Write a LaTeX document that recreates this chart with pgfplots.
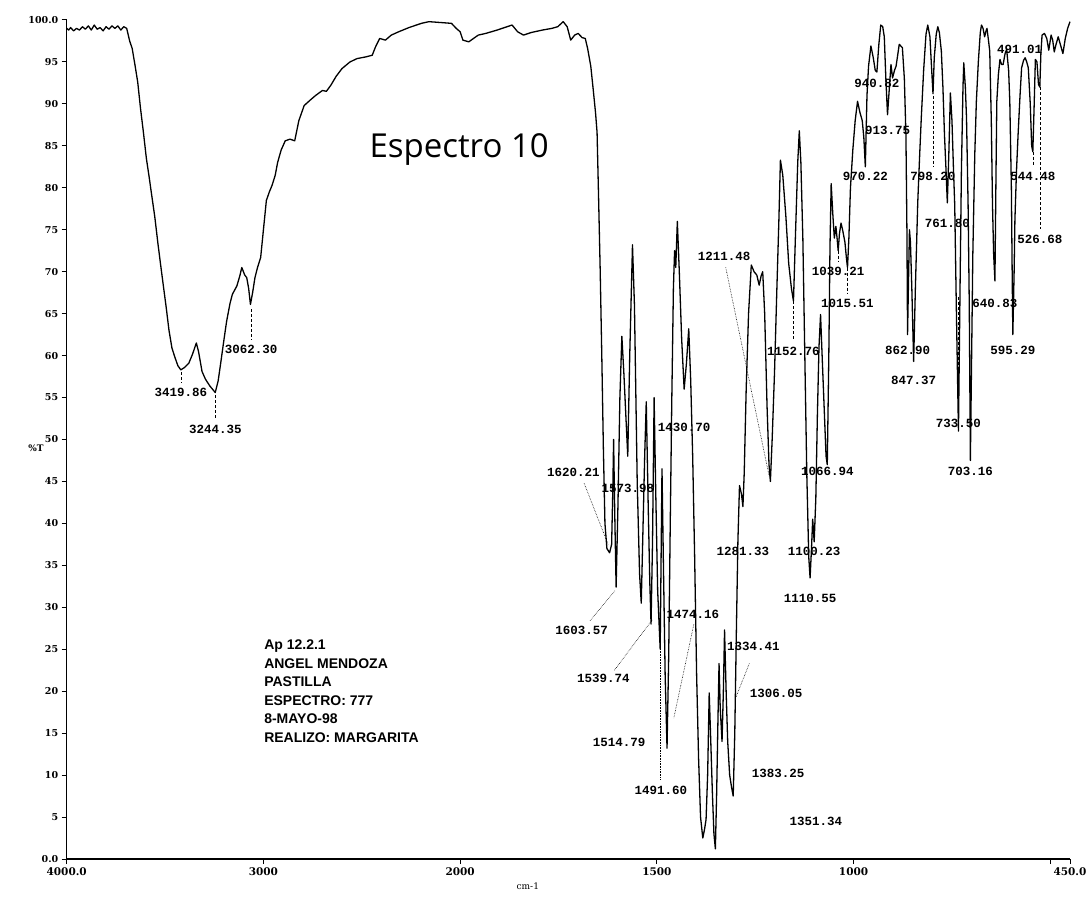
\documentclass[border=0pt]{standalone}
\usepackage{fontspec}
\setmainfont{Liberation Serif}
\newfontfamily\labfont{Liberation Mono}
\newfontfamily\arialfont{Liberation Sans}
\newfontfamily\titlefont{Open Sans}
\newfontfamily\tickfont{DejaVu Serif}
\usepackage{pgfplots}
\usepackage{pgfplotstable}
\pgfplotsset{compat=1.18}

% IR spectrum, wavenumber (cm-1) vs %T
\pgfplotstableread{
wn T
4000 99.0
3990 98.8
3980 99.1
3965 98.7
3950 99.0
3935 98.8
3920 99.2
3905 98.9
3890 99.3
3875 98.8
3860 99.4
3845 98.9
3830 99.1
3815 98.7
3800 99.2
3785 98.9
3770 99.3
3755 99.0
3740 99.3
3725 98.8
3710 99.2
3695 99.0
3680 97.5
3667 96.6
3652 94.5
3639 92.6
3625 89.5
3610 86.6
3595 83.5
3581 81.3
3566 78.8
3552 76.5
3537 73.5
3523 70.9
3508 68.2
3494 65.7
3480 63.0
3465 60.9
3450 59.8
3435 58.8
3420 58.3
3400 58.6
3379 59.1
3360 60.2
3341 61.5
3330 60.5
3312 58.1
3295 57.2
3273 56.4
3245 55.6
3230 57.0
3216 59.3
3200 62.0
3187 64.1
3170 66.2
3158 67.3
3135 68.3
3120 69.5
3110 70.5
3095 69.6
3085 69.3
3075 68.0
3066 66.1
3055 67.5
3043 69.3
3030 70.5
3014 71.7
3000 75.0
2985 78.5
2970 79.5
2956 80.3
2940 81.5
2928 83.0
2910 84.5
2889 85.6
2865 85.8
2841 85.6
2820 88.0
2793 89.8
2760 90.5
2735 91.0
2700 91.6
2680 91.5
2658 92.2
2630 93.3
2601 94.2
2560 95.0
2524 95.4
2480 95.6
2447 95.8
2430 96.8
2409 97.8
2380 97.6
2350 98.2
2312 98.6
2260 99.1
2197 99.6
2159 99.8
2100 99.7
2044 99.6
2020 99.0
2000 98.6
1993 97.6
1978 97.4
1954 98.2
1935 98.4
1906 98.8
1868 99.4
1854 98.6
1839 98.2
1820 98.5
1791 98.8
1767 99.0
1752 99.2
1738 99.8
1728 99.2
1719 97.6
1709 98.2
1700 98.4
1690 97.9
1682 97.8
1676 96.6
1668 94.5
1662 91.8
1656 89.0
1652 86.6
1648 78.5
1644 70.0
1640 60.0
1636 49.0
1632 40.0
1627 37.0
1620.2 36.5
1615 37.5
1612 44.0
1610 50.0
1607 41.0
1603.6 32.4
1599 42.0
1594 55.0
1589 62.3
1584 58.0
1580 54.0
1574 48.0
1569 60.0
1562 73.2
1557 66.0
1550 45.0
1544 34.0
1539.7 30.5
1535 40.0
1531 48.0
1527 54.5
1522 42.0
1518 33.0
1514.8 28.0
1511 38.0
1507 55.0
1503 44.0
1498 32.0
1491.6 25.0
1487 46.5
1483 34.0
1479 22.0
1474.2 13.2
1470 24.0
1466 40.0
1462 55.0
1458 68.0
1455 72.5
1452 70.5
1448 76.0
1443 70.0
1437 62.0
1430.7 56.0
1425 59.0
1419 63.2
1414 57.0
1409 48.0
1404 36.0
1399 22.0
1394 12.0
1389 5.0
1383.3 2.5
1379 3.5
1375 4.7
1371 10.0
1367 19.8
1363 14.0
1359 8.0
1355 3.0
1351.3 1.2
1348 8.0
1345 16.0
1342 23.3
1339 18.0
1334.4 14.0
1331 20.0
1328 27.3
1324 20.0
1320 14.0
1315 10.0
1310 8.5
1306 7.5
1302 15.0
1298 27.0
1294 38.0
1290 44.5
1285 43.5
1281.3 42.0
1278 46.0
1273 56.0
1267 65.0
1260 70.8
1253 70.0
1246 69.6
1240 68.4
1235 69.5
1231 70.0
1226 65.0
1220 54.0
1215 47.0
1211.5 45.0
1207 50.0
1201 58.0
1195 68.0
1190 76.0
1186 83.3
1180 81.5
1172 76.5
1165 71.0
1158 68.0
1152.8 66.5
1148 74.0
1142 83.0
1138 86.8
1134 83.0
1129 74.0
1124 60.0
1119 46.0
1114 36.0
1110.6 33.5
1107 37.0
1104 40.5
1100.2 37.8
1096 43.0
1092 53.0
1088 61.0
1084 64.9
1080 60.0
1075 54.0
1070 48.0
1066.9 47.0
1063 60.0
1060 73.0
1057 80.5
1053 77.0
1049 74.0
1045 75.4
1042 74.0
1039.2 72.5
1036 74.5
1032 75.8
1028 75.0
1022 73.5
1018 71.5
1015.5 70.5
1012 74.0
1008 80.0
1002 84.5
996 88.0
990 90.3
984 89.0
978 88.0
974 86.0
970.2 82.5
966 91.0
962 94.5
956 96.9
950 95.5
945 94.0
940.8 93.8
936 97.0
931 99.4
926 99.2
922 98.0
918 93.0
913.8 88.7
909 92.0
905 94.7
901 93.1
896 94.0
892 94.5
884 97.1
876 96.7
871 93.0
867 86.3
864.5 75.0
862.9 62.5
860 70.0
858 75.0
855.5 73.5
852 68.0
847.4 59.3
843 68.0
837 78.2
832 84.0
828 88.3
822 94.0
816 98.3
811.5 99.4
806 98.0
801.5 94.0
798.2 91.2
795 95.5
790 98.3
786 99.2
782 98.5
777 96.3
773 92.0
769 86.3
765 82.0
761.8 78.2
758 84.0
754 91.3
750 88.0
746 82.0
743 78.0
739 66.0
733.5 51.0
729 70.0
726 82.0
722 92.0
720 94.9
716 92.0
713 88.3
709 78.0
706 66.0
703.2 47.5
700 60.0
697 72.0
692 84.0
688 90.3
683 95.0
678 98.5
675 99.4
671 99.0
667 98.0
664 98.6
661 99.0
657 97.5
654 96.3
650 88.0
647 78.0
644 72.0
640.8 68.9
638 82.0
636 90.3
632 93.5
628 95.3
624 94.7
620 94.7
615 96.0
611 96.5
606 94.0
603 90.3
599 80.0
597 70.0
595.3 62.5
592 70.0
590 76.2
586 82.0
582 86.3
577 91.0
573 94.3
568 95.2
564 95.5
560 95.0
556 94.3
551 90.0
547.4 85.0
544.5 84.3
541 90.0
538 95.3
534 95.0
530 92.3
526.7 92.0
524 96.0
521 98.2
515 98.4
509 97.8
504 96.4
498 98.2
494 97.6
490 96.2
486 97.0
480 98.0
474 97.0
468 96.0
462 97.8
456 99.0
450 99.8
}\spectrum

\tikzset{
  lab/.style={font=\labfont\bfseries\fontsize{12.5}{14}\selectfont, inner sep=0pt},
  lead/.style={densely dashed, line width=0.6pt},
}

\begin{document}
\begin{tikzpicture}
\path[use as bounding box] (-66.7pt,-39pt) rectangle (1023.3pt,859pt);
\begin{axis}[
  at={(0pt,0pt)}, anchor=south west,
  scale only axis, width=1003.3pt, height=839pt,
  xmin=0, xmax=2550, ymin=0, ymax=100,
  axis x line=bottom, axis y line=left,
  axis line style={-, line width=1.3pt},
  tick align=outside, major tick length=5pt,
  every tick/.style={black, line width=1pt},
  xtick={0,500,1000,1500,2000,2500,2550},
  xticklabels={4000.0,3000,2000,1500,1000,,450.0},
  ytick={0,5,...,100},
  yticklabels={0.0,5,10,15,20,25,30,35,40,45,50,55,60,65,70,75,80,85,90,95,100.0},
  xticklabel style={font=\tickfont\bfseries\fontsize{10.5}{12}\selectfont},
  yticklabel style={font=\tickfont\bfseries\fontsize{9.5}{11}\selectfont},
  /pgf/number format/assume math mode=true,
  clip=false,
]
% 4000-2000 at half the scale of 2000-450
\addplot[black, line width=1.3pt, line join=round, no markers]
  table[x expr={ifthenelse(\thisrow{wn}>=2000,(4000-\thisrow{wn})/2,3000-\thisrow{wn})}, y=T] {\spectrum};

\node[lab] at (axis cs:290.07,55.6) {3419.86};
\node[lab] at (axis cs:377.8,51.2) {3244.35};
\node[lab] at (axis cs:468.85,60.7) {3062.30};
\node[lab] at (axis cs:1287.6,46.05) {1620.21};
\node[lab] at (axis cs:1426,44.2) {1573.98};
\node[lab] at (axis cs:1569.3,51.5) {1430.70};
\node[lab] at (axis cs:1308.9,27.2) {1603.57};
\node[lab] at (axis cs:1364.2,21.5) {1539.74};
\node[lab] at (axis cs:1591.7,29.1) {1474.16};
\node[lab] at (axis cs:1404.3,13.9) {1514.79};
\node[lab] at (axis cs:1510,8.2) {1491.60};
\node[lab] at (axis cs:1745.1,25.3) {1334.41};
\node[lab] at (axis cs:1803,19.7) {1306.05};
\node[lab] at (axis cs:1808.1,10.2) {1383.25};
\node[lab] at (axis cs:1904.4,4.5) {1351.34};
\node[lab] at (axis cs:1718.67,36.7) {1281.33};
\node[lab] at (axis cs:1670.9,71.8) {1211.48};
\node[lab] at (axis cs:1847.24,60.5) {1152.76};
\node[lab] at (axis cs:1889.45,31.1) {1110.55};
\node[lab] at (axis cs:1899.77,36.7) {1100.23};
\node[lab] at (axis cs:1933.06,46.2) {1066.94};
\node[lab] at (axis cs:1960.79,70) {1039.21};
\node[lab] at (axis cs:1984.49,66.2) {1015.51};
\node[lab] at (axis cs:2029.78,81.4) {970.22};
\node[lab] at (axis cs:2059.18,92.5) {940.82};
\node[lab] at (axis cs:2086.25,86.9) {913.75};
\node[lab] at (axis cs:2137.1,60.6) {862.90};
\node[lab] at (axis cs:2152.63,57) {847.37};
\node[lab] at (axis cs:2201.8,81.4) {798.20};
\node[lab] at (axis cs:2238.2,75.8) {761.80};
\node[lab] at (axis cs:2266.5,51.9) {733.50};
\node[lab] at (axis cs:2296.84,46.2) {703.16};
\node[lab] at (axis cs:2359.17,66.2) {640.83};
\node[lab] at (axis cs:2404.71,60.6) {595.29};
\node[lab] at (axis cs:2455.52,81.4) {544.48};
\node[lab] at (axis cs:2473.32,73.9) {526.68};
\node[lab] at (axis cs:2422,96.5) {491.01};

% leaders
\draw[lead] (axis cs:290.07,58) -- (axis cs:290.07,56.8);
\draw[lead] (axis cs:377.8,55.3) -- (axis cs:377.8,52.4);
\draw[lead] (axis cs:468.85,65.5) -- (axis cs:468.85,61.8);
\draw[densely dotted, line width=0.6pt] (axis cs:1315,44.8) -- (axis cs:1376,37.5);
\draw[densely dotted, line width=0.6pt] (axis cs:1330,28.4) -- (axis cs:1394,32);
\draw[densely dotted, line width=0.6pt] (axis cs:1392,22.5) -- (axis cs:1488,28.5);
\draw[densely dotted, line width=0.6pt] (axis cs:1594,28) -- (axis cs:1543,16.8);
\draw[densely dotted, line width=0.6pt] (axis cs:1508,9.5) -- (axis cs:1508,26.5);
\draw[densely dotted, line width=0.6pt] (axis cs:1735,23.3) -- (axis cs:1701,19.3);
\draw[densely dotted, line width=0.6pt] (axis cs:1675,70.5) -- (axis cs:1786,45.5);
\draw[lead] (axis cs:1847.24,66.5) -- (axis cs:1847.24,61.8);
\draw[lead] (axis cs:1960.79,72.5) -- (axis cs:1960.79,71.2);
\draw[lead] (axis cs:1984.49,70.5) -- (axis cs:1984.49,67.4);
\draw[lead] (axis cs:2201.8,91) -- (axis cs:2201.8,82.6);
\draw[lead] (axis cs:2266.5,67) -- (axis cs:2266.5,53.1);
\draw[lead] (axis cs:2455.52,84.3) -- (axis cs:2455.52,82.6);
\draw[lead] (axis cs:2473.32,92) -- (axis cs:2473.32,75.1);

\node[font=\titlefont\fontsize{33}{36}\selectfont] at (axis cs:997.5,84.6) {Espectro 10};
\node[anchor=west, align=left, inner sep=0pt, font=\arialfont\bfseries\fontsize{14}{18.5}\selectfont]
  at (axis cs:501.6,20) {Ap 12.2.1\\ANGEL MENDOZA\\PASTILLA\\ESPECTRO: 777\\8-MAYO-98\\REALIZO: MARGARITA};
\node[font=\tickfont\bfseries\fontsize{9}{10}\selectfont] at (axis cs:-78,49) {\%T};
\node[anchor=north, font=\tickfont\fontsize{9}{10}\selectfont] at (axis cs:1172,-2.4) {cm-1};
\end{axis}
\end{tikzpicture}
\end{document}
